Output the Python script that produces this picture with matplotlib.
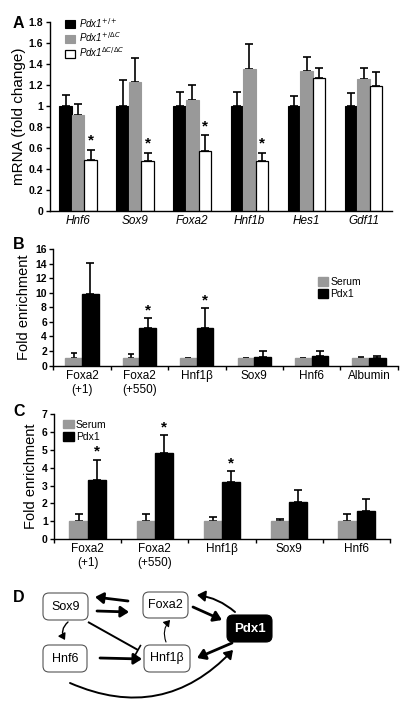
import matplotlib.pyplot as plt
import numpy as np
from matplotlib.patches import FancyBboxPatch, FancyArrowPatch

plt.rcParams['font.family'] = ['Liberation Sans', 'DejaVu Sans']

# panel A data
genes_a = ['Hnf6', 'Sox9', 'Foxa2', 'Hnf1b', 'Hes1', 'Gdf11']
wt = [1.0, 1.0, 1.0, 1.0, 1.0, 1.0]
wt_err = [0.10, 0.25, 0.13, 0.13, 0.09, 0.12]
het = [0.91, 1.23, 1.06, 1.35, 1.33, 1.26]
het_err = [0.11, 0.23, 0.14, 0.24, 0.14, 0.10]
ko = [0.48, 0.47, 0.57, 0.47, 1.27, 1.19]
ko_err = [0.10, 0.08, 0.15, 0.08, 0.09, 0.13]
star_a = [True, True, True, True, False, False]

# panel B data
labels_b = ['Foxa2\n(+1)', 'Foxa2\n(+550)', 'Hnf1β', 'Sox9', 'Hnf6', 'Albumin']
serum_b = [1.0, 1.0, 1.0, 1.0, 1.0, 1.0]
serum_b_err = [0.7, 0.6, 0.1, 0.1, 0.1, 0.2]
pdx_b = [9.9, 5.1, 5.2, 1.2, 1.3, 1.0]
pdx_b_err = [4.2, 1.4, 2.7, 0.8, 0.7, 0.3]
star_b = [False, True, True, False, False, False]

# panel C data
labels_c = ['Foxa2\n(+1)', 'Foxa2\n(+550)', 'Hnf1β', 'Sox9', 'Hnf6']
serum_c = [1.0, 1.0, 1.0, 1.0, 1.0]
serum_c_err = [0.38, 0.42, 0.25, 0.12, 0.42]
pdx_c = [3.3, 4.8, 3.2, 2.1, 1.6]
pdx_c_err = [1.15, 1.02, 0.6, 0.65, 0.62]
star_c = [True, True, True, False, False]

GREY = '#999999'

fig = plt.figure(figsize=(4.06, 7.14), dpi=100)


def style_axes(ax):
    for s in ['top', 'right']:
        ax.spines[s].set_visible(False)
    ax.spines['left'].set_linewidth(1.0)
    ax.spines['bottom'].set_linewidth(1.0)
    ax.tick_params(axis='y', direction='out', length=3, width=1, labelsize=7.5, pad=1.5)
    for t in ax.get_yticklabels():
        t.set_fontweight('bold')


def ebar(ax, x, y, e, w):
    ax.errorbar(x, y, yerr=[np.zeros(len(e)), e], fmt='none', ecolor='black',
                elinewidth=1.2, capsize=w, capthick=1.2, zorder=1)


# ---- A ----
axA = fig.add_axes([0.122, 0.705, 0.844, 0.264])
n = len(genes_a)
x = np.arange(n)
bw = 0.22
axA.bar(x - bw, wt, bw, color='black', edgecolor='black', lw=0.8, label='Pdx1$^{+/+}$', zorder=2)
axA.bar(x, het, bw, color=GREY, edgecolor=GREY, lw=0.8, label='Pdx1$^{+/ΔC}$', zorder=2)
axA.bar(x + bw, ko, bw, color='white', edgecolor='black', lw=0.9, label='Pdx1$^{ΔC/ΔC}$', zorder=2)
ebar(axA, x - bw, wt, wt_err, 3)
ebar(axA, x, het, het_err, 3)
ebar(axA, x + bw, ko, ko_err, 3)
for i in range(n):
    if star_a[i]:
        axA.text(x[i] + bw, ko[i] + ko_err[i] + 0.02, '*', ha='center', va='bottom',
                 fontsize=11, fontweight='bold')
axA.set_xlim(-0.5, n - 0.5)
axA.set_ylim(0, 1.8)
axA.set_yticks([0, 0.2, 0.4, 0.6, 0.8, 1, 1.2, 1.4, 1.6, 1.8])
axA.set_yticklabels(['0', '0.2', '0.4', '0.6', '0.8', '1', '1.2', '1.4', '1.6', '1.8'])
axA.set_xticks(x)
axA.set_xticklabels(genes_a, style='italic', fontsize=8.5)
axA.tick_params(axis='x', length=0, pad=3)
style_axes(axA)
axA.set_ylabel('mRNA (fold change)', fontsize=11, labelpad=2)
legA = axA.legend(loc='upper left', bbox_to_anchor=(0.02, 1.08), frameon=False,
                  handlelength=1.0, handleheight=0.9, handletextpad=0.4,
                  labelspacing=0.1, prop={'style': 'italic', 'size': 7})
fig.text(0.032, 0.967, 'A', fontsize=11.5, fontweight='bold', ha='left', va='center')

# ---- B ----
axB = fig.add_axes([0.131, 0.488, 0.849, 0.163])
n = len(labels_b)
x = np.arange(n)
bw = 0.29
axB.bar(x - bw / 2, serum_b, bw, color=GREY, edgecolor=GREY, label='Serum', zorder=2)
axB.bar(x + bw / 2, pdx_b, bw, color='black', edgecolor='black', label='Pdx1', zorder=2)
ebar(axB, x - bw / 2, serum_b, serum_b_err, 2)
ebar(axB, x + bw / 2, pdx_b, pdx_b_err, 3)
for i in range(n):
    if star_b[i]:
        axB.text(x[i] + bw / 2, pdx_b[i] + pdx_b_err[i] + 0.1, '*', ha='center',
                 va='bottom', fontsize=11, fontweight='bold')
axB.set_xlim(-0.5, n - 0.5)
axB.set_ylim(0, 16)
axB.set_yticks(range(0, 17, 2))
axB.set_xticks(x)
axB.set_xticklabels(labels_b, fontsize=8.5)
axB.set_xticks(np.arange(-0.5, n), minor=True)
axB.tick_params(axis='x', which='major', length=0, pad=3)
axB.tick_params(axis='x', which='minor', length=3, width=1, direction='out')
style_axes(axB)
axB.set_ylabel('Fold enrichment', fontsize=10.5, labelpad=3)
axB.legend(loc='upper left', bbox_to_anchor=(0.74, 0.84), frameon=False, fontsize=7.5,
           handlelength=1.0, handleheight=0.9, handletextpad=0.2, labelspacing=0.2)
fig.text(0.032, 0.657, 'B', fontsize=11.5, fontweight='bold', ha='left', va='center')

# ---- C ----
axC = fig.add_axes([0.133, 0.245, 0.828, 0.175])
n = len(labels_c)
x = np.arange(n)
bw = 0.27
axC.bar(x - bw / 2, serum_c, bw, color=GREY, edgecolor=GREY, label='Serum', zorder=2)
axC.bar(x + bw / 2, pdx_c, bw, color='black', edgecolor='black', label='Pdx1', zorder=2)
ebar(axC, x - bw / 2, serum_c, serum_c_err, 3)
ebar(axC, x + bw / 2, pdx_c, pdx_c_err, 3)
for i in range(n):
    if star_c[i]:
        axC.text(x[i] + bw / 2, pdx_c[i] + pdx_c_err[i] + 0.05, '*', ha='center',
                 va='bottom', fontsize=11, fontweight='bold')
axC.set_xlim(-0.5, n - 0.5)
axC.set_ylim(0, 7)
axC.set_yticks(range(0, 8))
axC.set_xticks(x)
axC.set_xticklabels(labels_c, fontsize=8.5)
axC.set_xticks(np.arange(-0.5, n), minor=True)
axC.tick_params(axis='x', which='major', length=0, pad=3)
axC.tick_params(axis='x', which='minor', length=3, width=1, direction='out')
style_axes(axC)
axC.set_ylabel('Fold enrichment', fontsize=10.5, labelpad=3)
axC.legend(loc='upper left', bbox_to_anchor=(0.0, 1.03), frameon=False, fontsize=7.5,
           handlelength=1.0, handleheight=0.9, handletextpad=0.2, labelspacing=0.2)
fig.text(0.032, 0.423, 'C', fontsize=11.5, fontweight='bold', ha='left', va='center')

# ---- D : network diagram (pixel coords, y down) ----
axD = fig.add_axes([0, 0, 1, 1 - 580 / 714])
axD.set_xlim(0, 406)
axD.set_ylim(714, 580)
axD.axis('off')
fig.text(0.032, 1 - 598 / 714, 'D', fontsize=11.5, fontweight='bold', ha='left', va='center')

boxes = {
    'Sox9': (43, 593, 45, 27),
    'Foxa2': (143, 592, 45, 26),
    'Pdx1': (227, 615, 45, 27),
    'Hnf6': (43, 645, 44, 27),
    'Hnf1β': (144, 645, 46, 27),
}
for name, (bx, by, bwid, bh) in boxes.items():
    dark = name == 'Pdx1'
    p = FancyBboxPatch((bx + 6, by + 6), bwid - 12, bh - 12,
                       boxstyle='round,pad=6', fc='black' if dark else 'white',
                       ec='black' if dark else '#555555', lw=0.8)
    axD.add_patch(p)
    axD.text(bx + bwid / 2, by + bh / 2, name, ha='center', va='center',
             fontsize=9 if not dark else 9.5, color='white' if dark else 'black',
             fontweight='bold' if dark else 'normal')


def arrow(p0, p1, rad=0.0, lw=2.0, head=8):
    a = FancyArrowPatch(p0, p1, connectionstyle=f'arc3,rad={rad}',
                        arrowstyle=f'-|>,head_length={head * 0.06},head_width={head * 0.04}',
                        lw=lw, color='black', shrinkA=0, shrinkB=0, mutation_scale=10)
    axD.add_patch(a)


arrow((128, 601), (95, 597), lw=2.0)
arrow((97, 611), (129, 612), lw=2.0)
arrow((193, 607), (222, 620), lw=2.0)
arrow((235, 612), (197, 595), rad=0.15, lw=1.4)
arrow((68, 622), (65, 640), rad=0.4, lw=1.0, head=6)
arrow((166, 642), (170, 620), rad=-0.3, lw=0.8, head=6)
arrow((100, 658), (142, 659), lw=2.0)
arrow((232, 643), (197, 658), lw=2.0)
arrow((70, 683), (233, 650), rad=0.35, lw=1.4)

# inhibition Sox9 -| Hnf1b
p0 = np.array([88.0, 622.0])
p1 = np.array([138.0, 650.0])
d = (p1 - p0) / np.linalg.norm(p1 - p0)
perp = np.array([-d[1], d[0]])
axD.plot([p0[0], p1[0]], [p0[1], p1[1]], color='black', lw=1.4, solid_capstyle='butt')
axD.plot([p1[0] - 5 * perp[0], p1[0] + 5 * perp[0]],
         [p1[1] - 5 * perp[1], p1[1] + 5 * perp[1]], color='black', lw=1.2)

fig.savefig('out.png', dpi=100)
